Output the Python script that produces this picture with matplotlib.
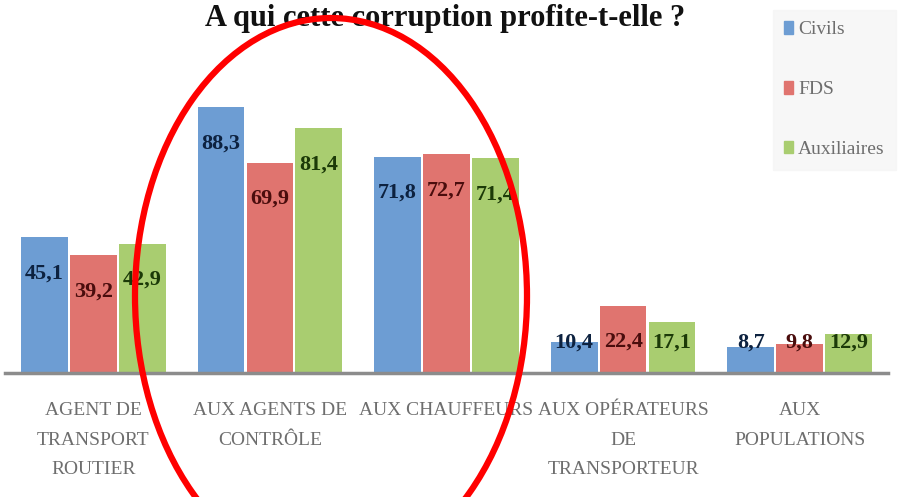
import matplotlib.pyplot as plt
import numpy as np
from matplotlib.patches import Ellipse, Patch

# données
categories = ['AGENT DE\nTRANSPORT\nROUTIER', 'AUX AGENTS DE\nCONTRÔLE', 'AUX CHAUFFEURS',
              'AUX OPÉRATEURS\nDE\nTRANSPORTEUR', 'AUX\nPOPULATIONS']
series = ['Civils', 'FDS', 'Auxiliaires']
civils = [45.1, 88.3, 71.8, 10.4, 8.7]
fds = [39.2, 69.9, 72.7, 22.4, 9.8]
auxiliaires = [42.9, 81.4, 71.4, 17.1, 12.9]

colors = ['#6d9dd3', '#e0746f', '#a9cd70']
text_colors = ['#0d2240', '#4a0d0d', '#1c3a08']

W, H = 906, 497
fig = plt.figure(figsize=(W / 100, H / 100), dpi=100)
plt.rcParams['font.family'] = ['Liberation Serif', 'DejaVu Serif']

ax = fig.add_axes([5 / W, (H - 373) / H, 883 / W, 373 / H])
x = np.arange(len(categories))
width = 0.265
step = 0.277

for i, (vals, col, tcol) in enumerate(zip([civils, fds, auxiliaires], colors, text_colors)):
    xs = x + (i - 1) * step
    ax.bar(xs, vals, width, color=col, zorder=2)
    for xi, v in zip(xs, vals):
        ax.text(xi, max(v - 12, 10), f'{v:.1f}'.replace('.', ','), ha='center', va='center',
                fontsize=16, fontweight='bold', color=tcol, zorder=3)

ax.set_xlim(-0.5, 4.5)
ax.set_ylim(0, 373 / 3.01)
for s in ['top', 'right', 'left']:
    ax.spines[s].set_visible(False)
ax.spines['bottom'].set_color('#8c8c8c')
ax.spines['bottom'].set_linewidth(2.5)
ax.set_yticks([])
ax.set_xticks(x)
ax.set_xticklabels(categories, fontsize=14, color='#6e6e6e', linespacing=1.95)
ax.tick_params(axis='x', length=0, pad=21)
for lbl in ax.get_xticklabels():
    lbl.set_verticalalignment('top')

fig.text(445 / W, 1 - 26 / H, 'A qui cette corruption profite-t-elle ?', ha='center',
         va='baseline', fontsize=22, fontweight='bold', color='#111111')

handles = [Patch(color=c, label=s) for c, s in zip(colors, series)]
leg = fig.legend(handles=handles, loc='upper right', bbox_to_anchor=(1.0, 1.0),
                 frameon=True, fontsize=14, labelcolor='#6e6e6e', handlelength=0.45,
                 handleheight=0.6, handletextpad=0.25, labelspacing=2.2,
                 borderpad=0.6, fancybox=False)
leg.get_frame().set_facecolor('#f5f5f5')
leg.get_frame().set_edgecolor('#f5f5f5')

# ellipse rouge
over = fig.add_axes([0, 0, 1, 1], zorder=10)
over.set_xlim(0, W)
over.set_ylim(H, 0)
over.set_axis_off()
over.patch.set_alpha(0)
over.add_patch(Ellipse((331, 296), 392, 556, fill=False, edgecolor='#ff0000', linewidth=4.5))

fig.savefig('out.png', dpi=100)
